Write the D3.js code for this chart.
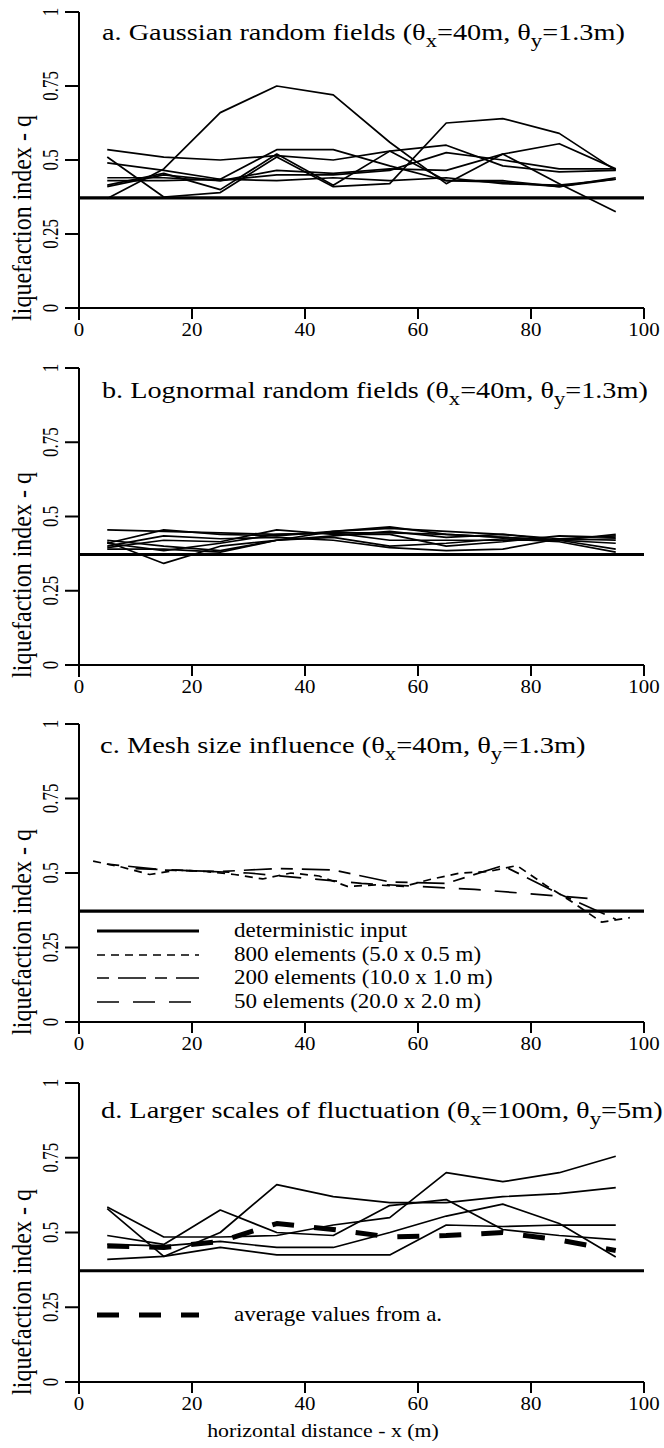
<!DOCTYPE html>
<html>
<head>
<meta charset="utf-8">
<script src="https://cdn.jsdelivr.net/npm/d3@7"></script>
<style>
  body { margin: 0; background: #fff; }
  svg text { font-family: "Liberation Serif", "Times New Roman", serif; fill: #000; }
</style>
</head>
<body>
<svg id="chart" width="664" height="1448"></svg>
<script>
// ---- data ----
const xTicks = [0, 20, 40, 60, 80, 100];
const yTicks = [0, 0.25, 0.5, 0.75, 1];
const yTickLabels = ["0", "0.25", "0.5", "0.75", "1"];
const cols10 = [5, 15, 25, 35, 45, 55, 65, 75, 85, 95];
const cols20 = [2.5, 7.5, 12.5, 17.5, 22.5, 27.5, 32.5, 37.5, 42.5, 47.5, 52.5, 57.5, 62.5, 67.5, 72.5, 77.5, 82.5, 87.5, 92.5, 97.5];
const cols5 = [10, 30, 50, 70, 90];
const deterministic = 0.372;

// a. gaussian realisations
const gaussA = [
  [0.37, 0.47, 0.66, 0.75, 0.72, 0.56, 0.42, 0.52, 0.42, 0.325],
  [0.51, 0.375, 0.39, 0.51, 0.41, 0.42, 0.625, 0.64, 0.59, 0.465],
  [0.535, 0.51, 0.50, 0.515, 0.50, 0.53, 0.55, 0.48, 0.46, 0.465],
  [0.49, 0.465, 0.435, 0.535, 0.535, 0.48, 0.43, 0.425, 0.41, 0.44],
  [0.44, 0.44, 0.43, 0.465, 0.455, 0.47, 0.465, 0.52, 0.555, 0.47],
  [0.41, 0.45, 0.43, 0.45, 0.45, 0.465, 0.525, 0.50, 0.47, 0.47],
  [0.415, 0.455, 0.40, 0.52, 0.415, 0.53, 0.43, 0.43, 0.41, 0.435],
  [0.43, 0.43, 0.435, 0.43, 0.44, 0.43, 0.44, 0.42, 0.415, 0.435]
];

// b. lognormal realisations
const lognB = [
  [0.455, 0.45, 0.445, 0.44, 0.445, 0.445, 0.44, 0.43, 0.42, 0.39],
  [0.41, 0.455, 0.44, 0.435, 0.45, 0.46, 0.45, 0.44, 0.42, 0.44],
  [0.395, 0.42, 0.415, 0.455, 0.44, 0.44, 0.40, 0.415, 0.435, 0.43],
  [0.415, 0.342, 0.40, 0.42, 0.435, 0.45, 0.43, 0.44, 0.425, 0.42],
  [0.39, 0.39, 0.38, 0.42, 0.45, 0.465, 0.44, 0.43, 0.42, 0.41],
  [0.42, 0.40, 0.385, 0.42, 0.43, 0.40, 0.41, 0.425, 0.415, 0.38],
  [0.40, 0.435, 0.425, 0.43, 0.42, 0.395, 0.385, 0.39, 0.425, 0.435],
  [0.41, 0.385, 0.41, 0.44, 0.445, 0.42, 0.42, 0.42, 0.42, 0.425]
];

// c. mesh size
const mesh800 = [0.54, 0.52, 0.495, 0.51, 0.505, 0.495, 0.48, 0.50, 0.49, 0.455, 0.46, 0.455, 0.48, 0.50, 0.505, 0.525, 0.46, 0.40, 0.335, 0.35];
const mesh200 = [0.53, 0.51, 0.505, 0.515, 0.51, 0.47, 0.465, 0.525, 0.43, 0.345];
const mesh50 = [0.515, 0.50, 0.465, 0.445, 0.415];
const meshLabels = ["deterministic input", "800 elements (5.0 x 0.5 m)", "200 elements (10.0 x 1.0 m)", "50 elements (20.0 x 2.0 m)"];

// d. larger scales
const largeD = [
  [0.58, 0.42, 0.50, 0.66, 0.62, 0.60, 0.60, 0.62, 0.63, 0.65],
  [0.585, 0.485, 0.485, 0.49, 0.525, 0.55, 0.70, 0.67, 0.70, 0.755],
  [0.49, 0.46, 0.575, 0.50, 0.49, 0.59, 0.61, 0.51, 0.49, 0.476],
  [0.46, 0.455, 0.47, 0.45, 0.45, 0.50, 0.555, 0.595, 0.53, 0.418],
  [0.41, 0.42, 0.45, 0.425, 0.425, 0.425, 0.525, 0.52, 0.525, 0.525]
];
const averageA = [0.455, 0.45, 0.47, 0.53, 0.51, 0.485, 0.49, 0.50, 0.475, 0.44];

// ---- drawing ----
const svg = d3.select("#chart");
const x = d3.scaleLinear().domain([0, 100]).range([79, 644]);

// stretched text helper (the scanned figure is wider than tall)
function stext(g, px, py, sx, sy, size, anchor, content, rot) {
  const t = g.append("g")
    .attr("transform", "translate(" + px + "," + py + ")" + (rot ? " rotate(-90)" : "") + " scale(" + sx + "," + sy + ")")
    .append("text")
    .attr("font-size", size)
    .attr("text-anchor", anchor);
  if (typeof content === "string") t.text(content);
  else content(t);
  return t;
}

function titleParts(pre, tx, ty) {
  return function (t) {
    t.append("tspan").text(pre + "(\u03b8");
    t.append("tspan").attr("dy", 7).attr("font-size", "0.8em").text("x");
    t.append("tspan").attr("dy", -7).text("=" + tx + ", \u03b8");
    t.append("tspan").attr("dy", 7).attr("font-size", "0.8em").text("y");
    t.append("tspan").attr("dy", -7).text("=" + ty + ")");
  };
}

function fitTitle(g, px, py, width, parts) {
  const t = stext(g, px, py, 1, 1, 23, "start", parts);
  const w = t.node().getComputedTextLength();
  d3.select(t.node().parentNode).attr("transform", "translate(" + px + "," + py + ") scale(" + (width / w) + ",1)");
}

function panel(y0, y1) {
  const y = d3.scaleLinear().domain([0, 1]).range([y0, y1]);
  const g = svg.append("g");

  // axes
  g.append("line").attr("x1", x(0)).attr("x2", x(0)).attr("y1", y(1)).attr("y2", y(0) + 12)
    .attr("stroke", "#000").attr("stroke-width", 2);
  g.append("line").attr("x1", x(0) - 14).attr("x2", x(100)).attr("y1", y(0)).attr("y2", y(0))
    .attr("stroke", "#000").attr("stroke-width", 2);
  g.selectAll(".yt").data(yTicks).enter().append("line")
    .attr("x1", x(0) - 14).attr("x2", x(0))
    .attr("y1", d => y(d)).attr("y2", d => y(d))
    .attr("stroke", "#000").attr("stroke-width", 2);
  g.selectAll(".xt").data(xTicks).enter().append("line")
    .attr("x1", d => x(d)).attr("x2", d => x(d))
    .attr("y1", y(0)).attr("y2", y(0) + 11)
    .attr("stroke", "#000").attr("stroke-width", 2);

  yTicks.forEach((d, i) => stext(g, 58, y(d), 1, 1.3, 17, "middle", yTickLabels[i], true));
  xTicks.forEach(d => stext(g, x(d), y(0) + 28, 1.1, 1, 19, "middle", String(d)));
  stext(g, 31, y(0) - 90, 1, 1.1, 24, "middle", "liquefaction index - q", true);

  return { g: g, y: y };
}

function series(p, xs, vals, width, dash) {
  const line = d3.line().x((d, i) => x(xs[i])).y(d => p.y(d));
  p.g.append("path").datum(vals).attr("d", line)
    .attr("fill", "none").attr("stroke", "#000")
    .attr("stroke-width", width).attr("stroke-linejoin", "round")
    .attr("stroke-dasharray", dash || null);
}

function detLine(p) {
  p.g.append("line").attr("x1", x(0)).attr("x2", x(100))
    .attr("y1", p.y(deterministic)).attr("y2", p.y(deterministic))
    .attr("stroke", "#000").attr("stroke-width", 3.2);
}

// panel a
const pa = panel(308, 12);
gaussA.forEach(s => series(pa, cols10, s, 1.7));
detLine(pa);
fitTitle(pa.g, 102, 40, 523, titleParts("a. Gaussian random fields ", "40m", "1.3m"));

// panel b
const pb = panel(665, 368);
lognB.forEach(s => series(pb, cols10, s, 1.7));
detLine(pb);
fitTitle(pb.g, 102, 398, 546, titleParts("b. Lognormal random fields ", "40m", "1.3m"));

// panel c
const pc = panel(1022, 724);
detLine(pc);
series(pc, cols20, mesh800, 1.7, "8,6");
series(pc, cols10, mesh200, 1.7, "12,9,28,9");
series(pc, cols5, mesh50, 1.7, "22,14");
fitTitle(pc.g, 100, 753, 486, titleParts("c. Mesh size influence ", "40m", "1.3m"));
const legDash = [null, "8,6", "12,9,28,9", "22,14,22,14,22,14,3"];
const legY = [931, 955, 978, 1002];
meshLabels.forEach((lab, i) => {
  pc.g.append("line").attr("x1", 97).attr("x2", 199).attr("y1", legY[i]).attr("y2", legY[i])
    .attr("stroke", "#000").attr("stroke-width", i === 0 ? 3.2 : 1.7)
    .attr("stroke-dasharray", legDash[i]);
  stext(pc.g, 234, legY[i] + 6, 1.15, 1, 20, "start", lab);
});

// panel d
const pd = panel(1382, 1083);
largeD.forEach(s => series(pd, cols10, s, 1.7));
series(pd, cols10, averageA, 5, "22,20");
detLine(pd);
fitTitle(pd.g, 101, 1118, 562, titleParts("d. Larger scales of fluctuation ", "100m", "5m"));
pd.g.append("line").attr("x1", 97).attr("x2", 199).attr("y1", 1315).attr("y2", 1315)
  .attr("stroke", "#000").attr("stroke-width", 5).attr("stroke-dasharray", "22,20");
stext(pd.g, 234, 1321, 1.15, 1, 20, "start", "average values from a.");

// x axis title
stext(svg, 323, 1437, 1.15, 1, 19, "middle", "horizontal distance - x (m)");
</script>
</body>
</html>
